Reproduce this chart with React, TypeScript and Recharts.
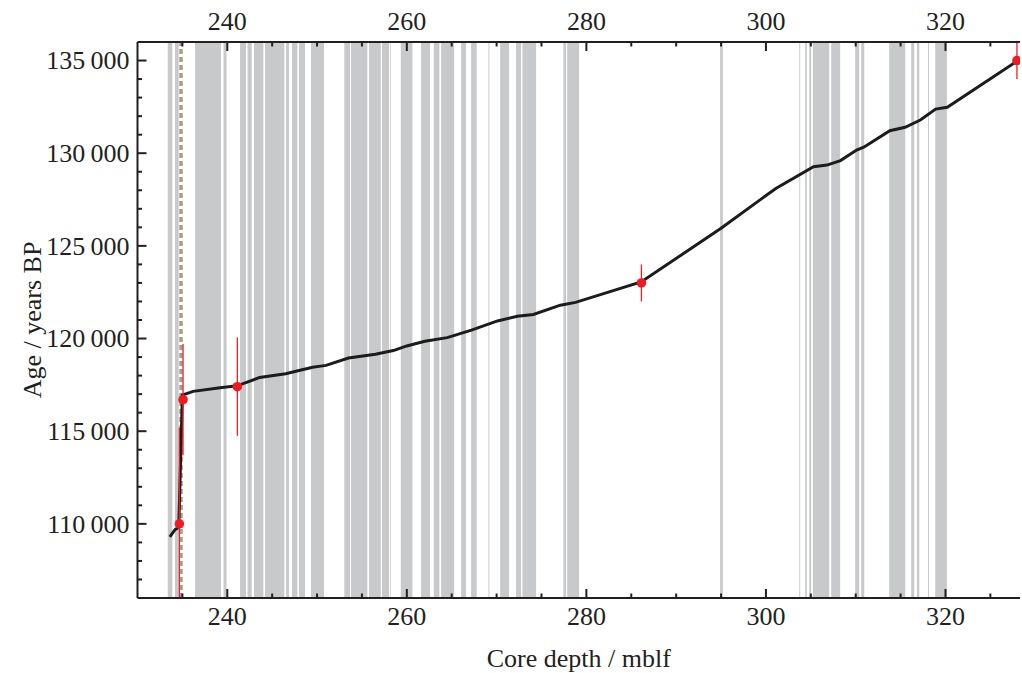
import React from 'react';
import {
  ComposedChart,
  Line,
  Scatter,
  XAxis,
  YAxis,
  ReferenceArea,
  ReferenceLine,
  ErrorBar,
} from 'recharts';

// Age-depth model line
const lineDepth = [233.6, 234.2, 234.4, 234.6, 235.0, 236.2, 239.2, 241.1, 243.6, 246.5, 249.5, 251.0, 253.5, 256.5, 258.5, 260.0, 262.0, 264.5, 267.2, 270.1, 272.3, 274.1, 277.1, 278.8, 286.1, 295.0, 301.1, 305.3, 306.8, 308.3, 310.1, 310.9, 313.8, 315.5, 317.2, 318.9, 320.2, 328.0];
const lineAge = [109300, 109700, 109750, 109900, 116950, 117150, 117350, 117450, 117900, 118100, 118450, 118550, 118950, 119150, 119350, 119600, 119850, 120050, 120450, 120950, 121200, 121300, 121800, 121950, 123050, 125950, 128100, 129270, 129360, 129600, 130170, 130320, 131210, 131400, 131790, 132380, 132480, 134975];

// Dated tie points with uncertainty
const pointDepth = [234.66, 235.07, 241.12, 286.13, 327.96];
const pointAge = [110000, 116700, 117400, 123000, 135000];
const pointErr = [5200, 3000, 2650, 1000, 1000];

// Grey depth intervals
const bandStart = [233.37, 234.18, 236.41, 239.58, 241.42, 242.26, 242.98, 244.21, 246.55, 247.21, 247.99, 249.33, 253.04, 253.79, 255.79, 257.24, 258.13, 259.33, 261.59, 263.0, 263.82, 266.05, 267.16, 269.09, 270.39, 272.17, 272.88, 277.44, 277.86, 294.9, 303.71, 304.37, 304.82, 305.23, 307.27, 309.94, 310.61, 313.73, 316.18, 316.82, 318.05, 318.86];
const bandEnd = [233.88, 234.59, 239.3, 239.92, 242.09, 242.72, 244.02, 246.36, 246.88, 247.81, 248.66, 250.78, 253.68, 255.6, 257.1, 258.02, 258.21, 260.62, 262.59, 263.63, 265.27, 266.6, 267.79, 269.2, 271.39, 272.73, 274.4, 277.74, 279.19, 295.2, 303.82, 304.56, 305.04, 307.05, 308.27, 310.39, 310.95, 315.52, 316.52, 317.08, 318.16, 320.16];

const dashedDepth = 234.85;

const xDomain = [230, 328.3];
const yDomain = [106000, 136000];

const xTicks = [235, 240, 245, 250, 255, 260, 265, 270, 275, 280, 285, 290, 295, 300, 305, 310, 315, 320, 325];
const yTicks = [107000, 108000, 109000, 110000, 111000, 112000, 113000, 114000, 115000, 116000, 117000, 118000, 119000, 120000, 121000, 122000, 123000, 124000, 125000, 126000, 127000, 128000, 129000, 130000, 131000, 132000, 133000, 134000, 135000];

const lineData = lineDepth.map((d, i) => ({ depth: d, age: lineAge[i] }));
// error bars are cut at the frame, like the plot region clips them
const pointData = pointDepth.map((d, i) => ({
  depth: d,
  age: pointAge[i],
  err: [
    Math.min(pointErr[i], pointAge[i] - yDomain[0]),
    Math.min(pointErr[i], yDomain[1] - pointAge[i]),
  ],
}));

const FONT = '"Liberation Serif", "Times New Roman", serif';
const INK = '#231f20';

const fmtAge = (v: number) => {
  const th = Math.floor(v / 1000);
  const rest = String(v % 1000).padStart(3, '0');
  return `${th}\u2009${rest}`;
};

const BottomTick = (props: any) => {
  const { x, y, payload } = props;
  const v = payload.value;
  const major = v % 20 === 0;
  return (
    <g>
      <line x1={x} y1={y} x2={x} y2={y - (major ? 9 : 4.5)} stroke={INK} strokeWidth={2} />
      {major && (
        <text x={x} y={y + 27} textAnchor="middle" fontFamily={FONT} fontSize={26} fill={INK}>
          {v}
        </text>
      )}
    </g>
  );
};

const TopTick = (props: any) => {
  const { x, y, payload } = props;
  const v = payload.value;
  const major = v % 20 === 0;
  return (
    <g>
      <line x1={x} y1={y} x2={x} y2={y + (major ? 9 : 4.5)} stroke={INK} strokeWidth={2} />
      {major && (
        <text x={x} y={y - 12.5} textAnchor="middle" fontFamily={FONT} fontSize={26} fill={INK}>
          {v}
        </text>
      )}
    </g>
  );
};

const LeftTick = (props: any) => {
  const { x, y, payload } = props;
  const v = payload.value;
  const major = v % 5000 === 0;
  return (
    <g>
      <line x1={x} y1={y} x2={x + (major ? 9 : 4.5)} y2={y} stroke={INK} strokeWidth={2} />
      {major && (
        <text x={x - 8} y={y} dy="0.34em" textAnchor="end" fontFamily={FONT} fontSize={26} fill={INK}>
          {fmtAge(v)}
        </text>
      )}
    </g>
  );
};

const Dot = (p: any) => <circle cx={p.cx} cy={p.cy} r={4.8} fill="#ec1c24" />;

export default function App() {
  return (
    <div style={{ position: 'absolute', left: 0, top: 0, background: '#fff' }}>
      <ComposedChart
        width={1022}
        height={673}
        margin={{ top: 0, right: 2, bottom: 0, left: 0 }}
      >
        <XAxis
          xAxisId="b"
          dataKey="depth"
          type="number"
          domain={xDomain}
          allowDataOverflow
          ticks={xTicks}
          interval={0}
          tickSize={0}
          tickMargin={0}
          tickLine={false}
          height={75}
          axisLine={{ stroke: INK, strokeWidth: 2 }}
          tick={BottomTick}
          label={{
            value: 'Core depth / mblf',
            position: 'insideBottom',
            offset: 6,
            fontFamily: FONT,
            fontSize: 26,
            fill: INK,
          }}
        />
        <XAxis
          xAxisId="t"
          orientation="top"
          dataKey="depth"
          type="number"
          domain={xDomain}
          allowDataOverflow
          ticks={xTicks}
          interval={0}
          tickSize={0}
          tickMargin={0}
          tickLine={false}
          height={42}
          axisLine={{ stroke: INK, strokeWidth: 2 }}
          tick={TopTick}
        />
        <YAxis
          yAxisId="l"
          dataKey="age"
          type="number"
          domain={yDomain}
          allowDataOverflow
          ticks={yTicks}
          interval={0}
          tickSize={0}
          tickMargin={0}
          tickLine={false}
          width={137.5}
          axisLine={{ stroke: INK, strokeWidth: 2 }}
          tick={LeftTick}
          label={{
            value: 'Age / years BP',
            angle: -90,
            position: 'insideLeft',
            offset: 32,
            fontFamily: FONT,
            fontSize: 26,
            fill: INK,
            style: { textAnchor: 'middle' },
          }}
        />
        {bandStart.map((s, i) => (
          <ReferenceArea
            key={`band-${i}`}
            xAxisId="b"
            yAxisId="l"
            x1={s}
            x2={bandEnd[i]}
            fill="#c8c9cb"
            fillOpacity={1}
            stroke="none"
          />
        ))}
        <ReferenceLine
          xAxisId="b"
          yAxisId="l"
          x={dashedDepth}
          stroke="#b09c86"
          strokeWidth={3.5}
          strokeDasharray="5 3"
        />
        <Line
          xAxisId="b"
          yAxisId="l"
          data={lineData}
          dataKey="age"
          type="linear"
          stroke="#1c1c1c"
          strokeWidth={3}
          dot={false}
          isAnimationActive={false}
        />
        <Scatter
          xAxisId="b"
          yAxisId="l"
          data={pointData}
          dataKey="age"
          shape={Dot}
          isAnimationActive={false}
        >
          <ErrorBar dataKey="err" direction="y" width={0} stroke="#e8202a" strokeWidth={1.3} isAnimationActive={false} />
        </Scatter>
      </ComposedChart>
    </div>
  );
}
